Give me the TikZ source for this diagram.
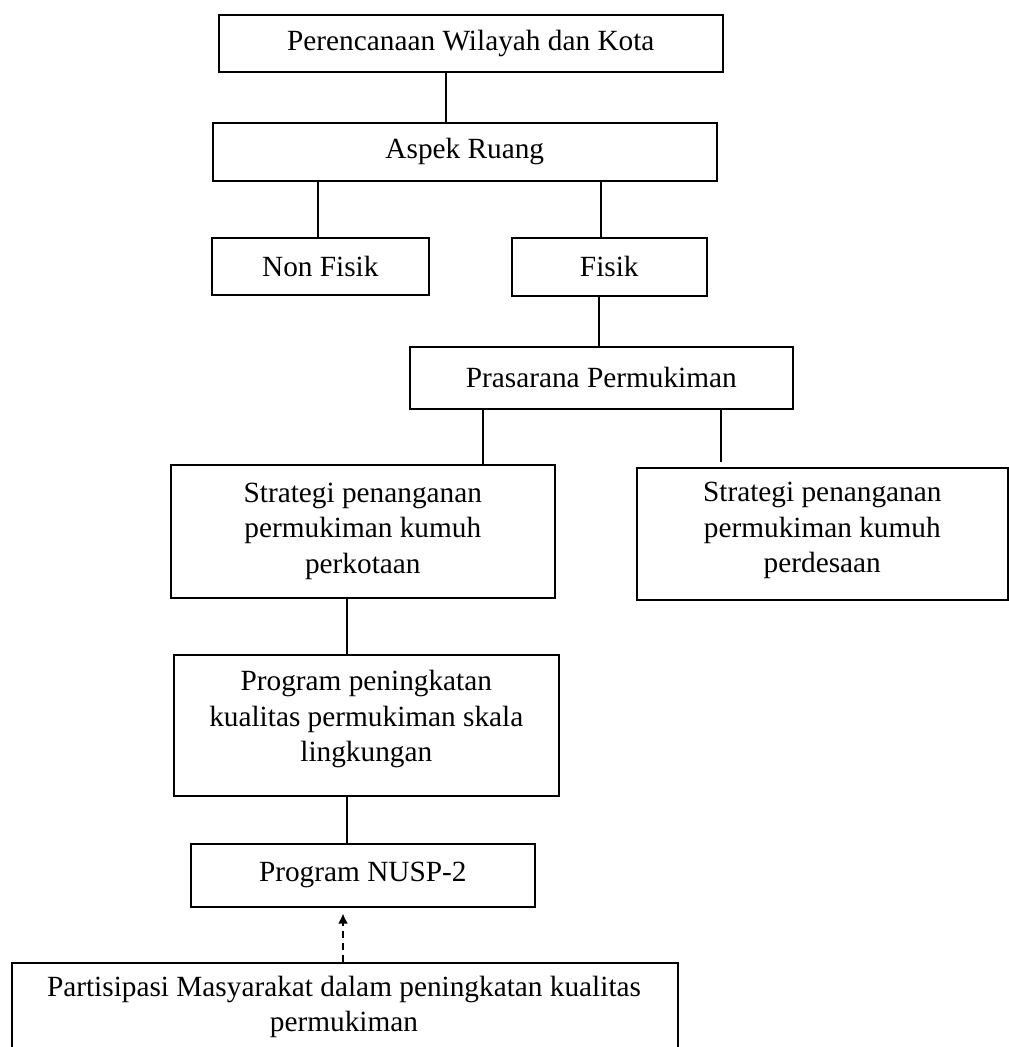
\documentclass[tikz,border=0pt]{standalone}
\usepackage{fontspec}
\setmainfont{Liberation Serif}
\usetikzlibrary{arrows.meta}
\begin{document}
\begin{tikzpicture}[x=1pt,y=-1pt,
  box/.style={draw, line width=1.6pt, inner sep=0pt, anchor=north west,
              font=\fontsize{29.3}{35.5}\selectfont, align=center},
  txt/.style={inner sep=0pt, font=\fontsize{29.3}{35.5}\selectfont, align=center},
  link/.style={line width=1.6pt}]
\useasboundingbox (0,0) rectangle (1009,1047);

\node[box, minimum width=504pt, minimum height=57pt]  (A) at (218,14)  {Perencanaan Wilayah dan Kota};
\node[box, minimum width=504pt, minimum height=58pt]  (B) at (212,122) {Aspek Ruang};
\node[box, minimum width=217pt, minimum height=57pt]  (C) at (211,237) {Non Fisik};
\node[box, minimum width=195pt, minimum height=58pt]  (D) at (511,237) {Fisik};
\node[box, minimum width=383pt, minimum height=62pt]  (E) at (409,346) {Prasarana Permukiman};
\node[box, minimum width=384pt, minimum height=133pt] (F) at (170,464) {Strategi penanganan\\permukiman kumuh\\perkotaan};
\node[box, minimum width=371pt, minimum height=132pt] (G) at (636,467) {};
\node[txt] (Gt) at ([yshift=3pt]G.center) {Strategi penanganan\\permukiman kumuh\\perdesaan};
\node[box, minimum width=385pt, minimum height=141pt] (H) at (173,654) {};
\node[txt] (Ht) at ([yshift=6pt]H.center) {Program peningkatan\\kualitas permukiman skala\\lingkungan};
\node[box, minimum width=344pt, minimum height=63pt]  (I) at (190,843) {Program NUSP-2};
\node[box, minimum width=666pt, minimum height=110pt] (J) at (11,962) {};
\node[txt] (Jt) at (344,1007) {Partisipasi Masyarakat dalam peningkatan kualitas\\permukiman};

\draw[link] (A.south -| 446,0) -- (B.north -| 446,0);
\draw[link] (B.south -| 318,0) -- (C.north -| 318,0);
\draw[link] (B.south -| 601,0) -- (D.north -| 601,0);
\draw[link] (D.south -| 599,0) -- (E.north -| 599,0);
\draw[line width=1.3pt] (E.south -| 483,0) -- (F.north -| 483,0);
\draw[link] (E.south -| 721,0) -- ([yshift=5pt]G.north -| 721,0);
\draw[link] (F.south -| 347,0) -- (H.north -| 347,0);
\draw[link] (H.south -| 347,0) -- (I.north -| 347,0);
\draw[link, dash pattern=on 7pt off 5pt, -{Latex[length=10pt,width=10pt]}]
  (J.north -| 343,0) -- ([yshift=-6pt]I.south -| 343,0);
\end{tikzpicture}
\end{document}
